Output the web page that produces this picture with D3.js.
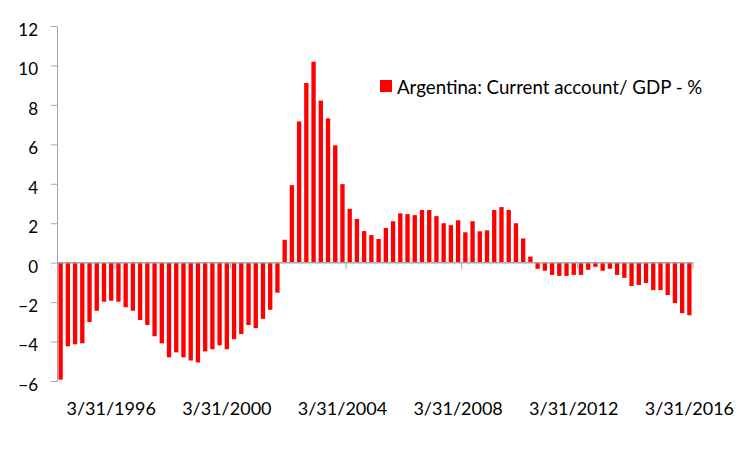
<!doctype html>
<html>
  <head>
    <meta charset="utf-8">
    <script src="https://d3js.org/d3.v7.min.js"></script>
    <style>
      body { margin: 0; background: #fff; }
      text { font-family: Lato, "Open Sans", sans-serif; fill: #000; }
    </style>
  </head>
  <body>
    <script>
    // quarterly current account balance, % of GDP (Q2 1994 .. Q1 2016)
    var values = [
      -5.93, -4.24, -4.14, -4.09, -3.01, -2.44, -1.98, -1.93,
      -1.98, -2.26, -2.44, -2.91, -3.16, -3.73, -4.09, -4.80,
      -4.55, -4.80, -4.96, -5.06, -4.50, -4.39, -4.19, -4.39,
      -3.88, -3.62, -3.16, -3.32, -2.85, -2.39, -1.52, 1.16,
      3.93, 7.16, 9.11, 10.19, 8.22, 7.32, 5.95, 3.98,
      2.73, 2.22, 1.60, 1.40, 1.20, 1.76, 2.10, 2.50,
      2.46, 2.41, 2.67, 2.67, 2.36, 2.00, 1.90, 2.15,
      1.54, 2.10, 1.59, 1.64, 2.67, 2.82, 2.67, 2.00,
      1.23, 0.31, -0.31, -0.41, -0.62, -0.67, -0.67, -0.62,
      -0.62, -0.36, -0.21, -0.41, -0.31, -0.62, -0.77, -1.18,
      -1.13, -1.03, -1.39, -1.39, -1.64, -2.05, -2.56, -2.67
    ];
    var tickLabels = ["3/31/1996", "3/31/2000", "3/31/2004", "3/31/2008", "3/31/2012", "3/31/2016"];
    var yTicks = [-6, -4, -2, 0, 2, 4, 6, 8, 10, 12];
    var seriesName = "Argentina: Current account/ GDP - %";

    // quarter end dates used as category names
    var quarterEnds = ["6/30", "9/30", "12/31", "3/31"];
    var categories = values.map(function(v, i) {
      var q = (i + 1) % 4;            // first category is Q2 1994
      var year = 1994 + Math.floor((i + 1) / 4);
      return quarterEnds[(q + 3) % 4] + "/" + year;
    });

    var width = 750, height = 452;

    var svg = d3.select("body").append("svg")
      .attr("width", width)
      .attr("height", height);

    var x = d3.scaleBand()
      .domain(categories)
      .range([57, 693])
      .paddingInner(0.4)
      .paddingOuter(0.2);

    var y = d3.scaleLinear()
      .domain([-6, 12])
      .range([381, 26]);

    // bars
    svg.append("g").selectAll("rect")
      .data(values)
      .join("rect")
      .attr("x", function(d, i) { return x(categories[i]); })
      .attr("width", x.bandwidth())
      .attr("y", function(d) { return d >= 0 ? y(d) : y(0); })
      .attr("height", function(d) { return Math.abs(y(d) - y(0)); })
      .attr("fill", "#ff0000");

    // y axis
    var yAxis = svg.append("g")
      .attr("transform", "translate(57,0)")
      .call(d3.axisLeft(y).tickValues(yTicks).tickSize(6).tickPadding(13).tickFormat(d3.format("d")));
    yAxis.select(".domain").attr("stroke", "#a6a6a6");
    yAxis.selectAll(".tick line").attr("stroke", "#a6a6a6");
    yAxis.selectAll(".tick text")
      .attr("font-size", "17px")
      .attr("font-family", "Lato, sans-serif")
      .attr("dy", "0.55em");

    // x axis along zero
    var step = x.step();
    var tickIdx = tickLabels.map(function(t) { return categories.indexOf(t); });

    var xAxis = svg.append("g");
    xAxis.append("line")
      .attr("x1", 57).attr("x2", 693)
      .attr("y1", y(0)).attr("y2", y(0))
      .attr("stroke", "#a6a6a6")
      .attr("stroke-width", 1.5);
    xAxis.selectAll("line.tk")
      .data(tickIdx)
      .join("line")
      .attr("class", "tk")
      .attr("x1", function(i) { return 57 + (i + 1) * step; })
      .attr("x2", function(i) { return 57 + (i + 1) * step; })
      .attr("y1", y(0)).attr("y2", y(0) + 6)
      .attr("stroke", "#a6a6a6");
    xAxis.selectAll("text")
      .data(tickIdx)
      .join("text")
      .attr("x", function(i) { return x(categories[i]) + x.bandwidth() / 2; })
      .attr("y", 415)
      .attr("text-anchor", "middle")
      .attr("font-size", "18px")
      .text(function(i) { return categories[i]; });

    // legend
    var legend = svg.append("g").attr("transform", "translate(380,80)");
    legend.append("rect")
      .attr("width", 12).attr("height", 12)
      .attr("fill", "#ff0000");
    legend.append("text")
      .attr("x", 17).attr("y", 14)
      .attr("font-size", "18.7px")
      .text(seriesName);
    </script>
  </body>
</html>
